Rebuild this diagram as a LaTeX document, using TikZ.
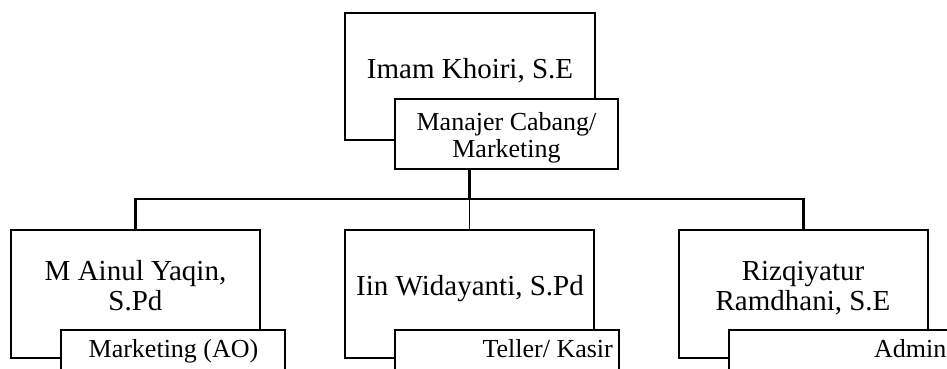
\documentclass[tikz,border=0pt]{standalone}
\usepackage{fontspec}
\setmainfont{Liberation Serif}
\begin{document}
\begin{tikzpicture}[x=1pt,y=-1pt,
  bigbox/.style={draw,line width=2.8pt,minimum width=249pt,minimum height=128pt,inner sep=0pt,outer sep=0pt},
  rolebox/.style={draw,fill=white,line width=2.8pt,minimum width=224pt,inner sep=0pt,outer sep=0pt},
  nametext/.style={anchor=base,inner sep=0pt,font=\fontsize{29}{31}\selectfont},
  roletext/.style={anchor=base,inner sep=0pt,font=\fontsize{26}{28}\selectfont},
  conn/.style={line width=2.8pt},
  thinconn/.style={line width=1pt}]
\useasboundingbox (0,0) rectangle (947,369);
\clip (0,0) rectangle (947,369);
% top
\node[bigbox,minimum width=250pt,minimum height=127pt] (topb) at (470,76.5) {};
\node[rolebox,minimum width=223pt,minimum height=70pt] (topr) at (506.5,134) {};
\node[nametext] (topn) at (470,78) {Imam Khoiri, S.E};
\node[roletext] (topr1) at (506.5,130) {Manajer Cabang/};
\node[roletext] (topr2) at (506.5,157) {Marketing};
% bottom boxes
\node[bigbox] (leftb) at (135.5,294) {};
\node[bigbox] (midb) at (469.5,294) {};
\node[bigbox] (rightb) at (803.5,294) {};
\node[rolebox,minimum height=60pt] (leftr) at (173,360) {};
\node[rolebox,minimum height=60pt] (midr) at (507,360) {};
\node[rolebox,minimum height=60pt] (rightr) at (841,360) {};
% names
\node[nametext] (leftn1) at (135.5,280) {M Ainul Yaqin,};
\node[nametext] (leftn2) at (135.5,310) {S.Pd};
\node[nametext] (midn) at (470,295) {Iin Widayanti, S.Pd};
\node[nametext] (rightn1) at (803,280) {Rizqiyatur};
\node[nametext] (rightn2) at (803,310) {Ramdhani, S.E};
% roles
\node[roletext] (leftrt) at (173.5,357) {Marketing (AO)};
\node[roletext,anchor=base east] (midrt) at (613,357) {Teller/ Kasir};
\node[roletext,anchor=base west] (rightrt) at (874,357) {Admin};
% connectors
\coordinate (bus) at (469.5,199);
\draw[conn] (bus |- topr.south) -- (bus);
\draw[conn] (leftb.north) -- (leftb.north |- bus) -- (rightb.north |- bus) -- (rightb.north);
\draw[thinconn] (bus) -- (midb.north);
\end{tikzpicture}
\end{document}
